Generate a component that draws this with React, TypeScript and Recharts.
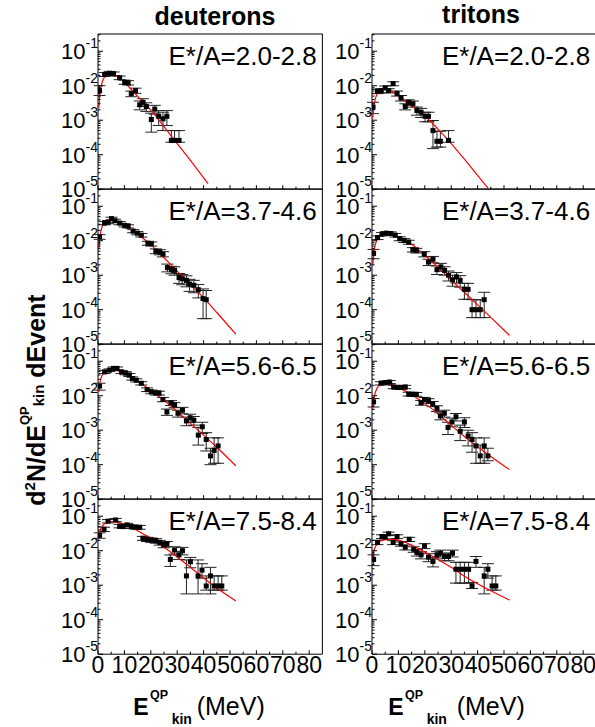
import React from 'react';
import { ComposedChart, Line, Scatter, XAxis, YAxis, ErrorBar, ReferenceArea } from 'recharts';

const FONT = 'Arial, "Liberation Sans", Helvetica, sans-serif';

// layout (page px)
const COL_X = [98.3, 371.7];
const PW = 224.4;
const ROW_Y0 = 33.5;
const PH = 155.2;
const YW = 60;
const PAD = 20;

const xTicks = [0, 5, 10, 15, 20, 25, 30, 35, 40, 45, 50, 55, 60, 65, 70, 75, 80];
const xLabels = [0, 10, 20, 30, 40, 50, 60, 70, 80];
const yMajor = [1e-5, 1e-4, 1e-3, 1e-2, 1e-1];
const yMinor = [
  2e-5, 3e-5, 4e-5, 5e-5, 6e-5, 7e-5, 8e-5, 9e-5,
  2e-4, 3e-4, 4e-4, 5e-4, 6e-4, 7e-4, 8e-4, 9e-4,
  2e-3, 3e-3, 4e-3, 5e-3, 6e-3, 7e-3, 8e-3, 9e-3,
  2e-2, 3e-2, 4e-2, 5e-2, 6e-2, 7e-2, 8e-2, 9e-2,
  2e-1, 3e-1,
];
const yTicks = [...yMajor, ...yMinor].sort((a, b) => a - b);

const columnTitles = ['deuterons', 'tritons'];
const panelLabels = ['E*/A=2.0-2.8', 'E*/A=3.7-4.6', 'E*/A=5.6-6.5', 'E*/A=7.5-8.4'];

type Pt = [number, number, number, number]; // E, value, bar low, bar high
type Fp = [number, number];

// deuterons, E*/A = 2.0-2.8
const deut1: Pt[] = [
  [0.6, 7.2e-3, 5.2e-3, 1.0e-2], [2.5, 2.1e-2, 1.85e-2, 2.4e-2], [4.4, 2.3e-2, 2.05e-2, 2.6e-2],
  [5.9, 2.2e-2, 1.95e-2, 2.5e-2], [8.2, 1.7e-2, 1.5e-2, 1.9e-2], [10.1, 1.26e-2, 1.1e-2, 1.45e-2],
  [11.4, 1.2e-2, 1.05e-2, 1.4e-2], [12.6, 5.9e-3, 4.8e-3, 7.0e-3], [14.2, 7.2e-3, 6.0e-3, 8.5e-3],
  [15.8, 2.8e-3, 2.0e-3, 3.6e-3], [17.0, 3.3e-3, 2.5e-3, 4.2e-3], [18.3, 2.5e-3, 1.8e-3, 3.2e-3],
  [20.2, 1.05e-3, 4.5e-4, 1.6e-3], [21.5, 2.1e-3, 1.5e-3, 2.7e-3], [23.0, 1.3e-3, 7e-4, 1.9e-3],
  [24.6, 1.1e-3, 5e-4, 1.7e-3], [26.1, 1.3e-3, 7e-4, 1.9e-3], [27.8, 2.6e-4, 2.3e-4, 5.0e-4],
  [29.0, 2.6e-4, 2.3e-4, 5.0e-4], [30.7, 2.6e-4, 2.3e-4, 5.0e-4],
];
const fitD1: Fp[] = [
  [0.3, 2.24e-3], [0.8, 6.3e-3], [1.5, 1.2e-2], [2.5, 1.82e-2], [3.5, 2.19e-2], [4.5, 2.29e-2],
  [6, 2.14e-2], [8, 1.7e-2], [10, 1.26e-2], [12.5, 7.9e-3], [15, 5.0e-3], [17.5, 3.16e-3],
  [20, 1.95e-3], [25, 6.5e-4], [30, 2.1e-4], [35, 6.8e-5], [41.7, 1.45e-5],
];

// tritons, E*/A = 2.0-2.8
const trit1: Pt[] = [
  [0.4, 2.4e-3, 1.55e-3, 3.3e-3], [2.1, 6.9e-3, 5.9e-3, 7.9e-3], [3.5, 7.2e-3, 6.2e-3, 8.2e-3],
  [5.0, 8.7e-3, 7.6e-3, 9.8e-3], [6.3, 7.2e-3, 6.2e-3, 8.2e-3], [8.0, 1.15e-2, 1.0e-2, 1.3e-2],
  [9.5, 6.0e-3, 5.0e-3, 7.0e-3], [11.0, 4.4e-3, 3.6e-3, 5.2e-3], [12.6, 2.5e-3, 2.0e-3, 3.0e-3],
  [13.9, 3.3e-3, 2.7e-3, 3.9e-3], [15.5, 3.0e-3, 2.4e-3, 3.6e-3], [17.0, 1.9e-3, 1.4e-3, 2.4e-3],
  [18.6, 1.7e-3, 1.2e-3, 2.2e-3], [20.1, 1.3e-3, 9e-4, 1.7e-3], [21.4, 1.3e-3, 9e-4, 1.7e-3],
  [23.1, 5.0e-4, 1.5e-4, 9.8e-4], [24.6, 2.45e-4, 1.66e-4, 4.8e-4], [25.9, 2.45e-4, 1.66e-4, 4.8e-4],
  [29.0, 2.6e-4, 2.3e-4, 5.0e-4],
];
const fitT1: Fp[] = [
  [0.3, 1.12e-3], [0.8, 2.8e-3], [1.5, 4.8e-3], [2.5, 6.6e-3], [3.5, 7.8e-3], [4.5, 8.1e-3],
  [6, 7.8e-3], [8, 6.5e-3], [10, 5.0e-3], [12.5, 3.5e-3], [15, 2.6e-3], [17.5, 1.86e-3],
  [20, 1.32e-3], [25, 5.5e-4], [30, 2.1e-4], [35, 7.4e-5], [40, 2.5e-5], [44, 1.05e-5],
];

// deuterons, E*/A = 3.7-4.6
const deut2: Pt[] = [
  [0.6, 1.29e-2, 1.1e-2, 1.5e-2], [2.5, 3.24e-2, 2.9e-2, 3.6e-2], [3.8, 3.47e-2, 3.1e-2, 3.85e-2],
  [5.1, 4.37e-2, 3.95e-2, 4.8e-2], [6.4, 3.8e-2, 3.4e-2, 4.2e-2], [8.2, 3.24e-2, 2.9e-2, 3.6e-2],
  [10.1, 2.8e-2, 2.5e-2, 3.1e-2], [11.4, 2.63e-2, 2.35e-2, 2.9e-2], [13.3, 1.9e-2, 1.7e-2, 2.1e-2],
  [14.9, 1.66e-2, 1.48e-2, 1.84e-2], [16.4, 1.45e-2, 1.28e-2, 1.62e-2], [18.9, 8.5e-3, 7.4e-3, 9.6e-3],
  [20.2, 8.1e-3, 7.0e-3, 9.2e-3], [21.9, 5.0e-3, 4.2e-3, 5.8e-3], [23.4, 4.7e-3, 3.9e-3, 5.5e-3],
  [24.6, 4.1e-3, 3.4e-3, 4.8e-3], [26.3, 1.66e-3, 1.25e-3, 2.1e-3], [27.8, 1.45e-3, 1.1e-3, 1.8e-3],
  [29.0, 1.38e-3, 1.0e-3, 1.75e-3], [30.7, 8.5e-4, 5.8e-4, 1.12e-3], [31.9, 7.9e-4, 5.3e-4, 1.05e-3],
  [33.5, 7.1e-4, 4.6e-4, 9.6e-4], [34.7, 5.5e-4, 3.4e-4, 7.6e-4], [36.3, 5.1e-4, 3.1e-4, 7.1e-4],
  [38.0, 3.8e-4, 2.2e-4, 5.4e-4], [39.8, 2.1e-4, 5.5e-5, 4.0e-4], [41.0, 1.95e-4, 5.5e-5, 3.6e-4],
];
const fitD2: Fp[] = [
  [0.3, 5.6e-3], [0.8, 1.4e-2], [1.5, 2.5e-2], [2.5, 3.5e-2], [3.5, 4.0e-2], [4.5, 4.2e-2],
  [6, 4.1e-2], [8, 3.55e-2], [10, 2.9e-2], [12.5, 2.1e-2], [15, 1.55e-2], [17.5, 1.1e-2],
  [20, 7.6e-3], [25, 3.2e-3], [30, 1.32e-3], [35, 5.5e-4], [40, 2.2e-4], [45, 8.3e-5], [52.2, 1.95e-5],
];

// tritons, E*/A = 3.7-4.6
const trit2: Pt[] = [
  [0.6, 4.3e-3, 3.0e-3, 5.6e-3], [2.1, 1.23e-2, 1.08e-2, 1.38e-2], [3.8, 1.55e-2, 1.38e-2, 1.72e-2],
  [5.4, 1.66e-2, 1.48e-2, 1.84e-2], [7.1, 1.62e-2, 1.45e-2, 1.8e-2], [8.8, 1.45e-2, 1.28e-2, 1.62e-2],
  [10.5, 1.15e-2, 1.0e-2, 1.3e-2], [12.2, 1.02e-2, 8.9e-3, 1.15e-2], [13.9, 9.1e-3, 7.9e-3, 1.03e-2],
  [15.5, 5.5e-3, 4.7e-3, 6.3e-3], [16.8, 5.2e-3, 4.4e-3, 6.0e-3], [19.8, 4.1e-3, 3.4e-3, 4.8e-3],
  [21.4, 2.4e-3, 1.9e-3, 2.9e-3], [23.1, 2.9e-3, 2.3e-3, 3.5e-3], [24.6, 1.45e-3, 1.05e-3, 1.85e-3],
  [26.1, 1.74e-3, 1.3e-3, 2.2e-3], [27.5, 1.38e-3, 1.0e-3, 1.76e-3], [29.0, 1.0e-3, 6.8e-4, 1.32e-3],
  [30.5, 7.4e-4, 4.8e-4, 1.0e-3], [32.0, 8.9e-4, 5.9e-4, 1.19e-3], [33.4, 7.1e-4, 4.5e-4, 9.7e-4],
  [35.0, 3.9e-4, 2.0e-4, 5.8e-4], [36.4, 3.9e-4, 2.0e-4, 5.8e-4], [37.9, 1.0e-4, 5.9e-5, 1.95e-4],
  [39.4, 1.0e-4, 5.9e-5, 1.95e-4], [41.0, 1.0e-4, 5.9e-5, 1.95e-4], [42.5, 1.95e-4, 5.9e-5, 3.2e-4],
];
const fitT2: Fp[] = [
  [0.3, 2.0e-3], [0.8, 5.0e-3], [1.5, 8.9e-3], [2.5, 1.32e-2], [3.5, 1.58e-2], [4.5, 1.66e-2],
  [6, 1.66e-2], [8, 1.51e-2], [10, 1.32e-2], [12.5, 1.05e-2], [15, 7.9e-3], [17.5, 5.6e-3],
  [20, 3.8e-3], [25, 1.7e-3], [30, 7.2e-4], [35, 3.2e-4], [40, 1.38e-4], [45, 6.0e-5], [52.1, 1.8e-5],
];

// deuterons, E*/A = 5.6-6.5
const deut3: Pt[] = [
  [0.6, 1.9e-2, 1.45e-2, 2.3e-2], [2.5, 4.9e-2, 4.4e-2, 5.4e-2], [4.4, 5.5e-2, 5.0e-2, 6.0e-2],
  [5.9, 6.2e-2, 5.6e-2, 6.8e-2], [7.2, 6.2e-2, 5.6e-2, 6.8e-2], [8.9, 4.9e-2, 4.4e-2, 5.4e-2],
  [10.5, 4.5e-2, 4.05e-2, 4.95e-2], [11.9, 4.0e-2, 3.6e-2, 4.4e-2], [13.0, 3.16e-2, 2.85e-2, 3.5e-2],
  [14.5, 2.8e-2, 2.5e-2, 3.1e-2], [16.4, 2.3e-2, 2.05e-2, 2.55e-2], [18.6, 1.5e-2, 1.32e-2, 1.68e-2],
  [20.2, 1.3e-2, 1.14e-2, 1.46e-2], [21.9, 1.2e-2, 1.05e-2, 1.35e-2], [23.1, 1.2e-2, 1.05e-2, 1.35e-2],
  [24.6, 7.8e-3, 6.7e-3, 8.9e-3], [26.1, 3.4e-3, 2.7e-3, 4.1e-3], [27.7, 6.2e-3, 5.2e-3, 7.2e-3],
  [29.0, 5.4e-3, 4.5e-3, 6.3e-3], [30.3, 3.1e-3, 2.4e-3, 3.8e-3], [32.0, 3.8e-3, 3.0e-3, 4.6e-3],
  [33.5, 1.86e-3, 1.35e-3, 2.4e-3], [34.9, 2.3e-3, 1.7e-3, 2.9e-3], [36.3, 1.95e-3, 1.4e-3, 2.5e-3],
  [38.0, 7.2e-4, 3.7e-4, 1.2e-3], [39.5, 1.26e-3, 8.0e-4, 1.7e-3], [41.0, 5.4e-4, 2.5e-4, 8.5e-4],
  [42.6, 1.8e-4, 1.0e-4, 3.0e-4], [44.0, 2.6e-4, 1.1e-4, 6.0e-4], [45.5, 3.5e-4, 1.1e-4, 6.0e-4],
];
const fitD3: Fp[] = [
  [0.3, 1.26e-2], [0.8, 2.5e-2], [1.5, 3.8e-2], [2.5, 4.9e-2], [3.5, 5.5e-2], [4.5, 5.75e-2],
  [6, 5.75e-2], [8, 5.1e-2], [10, 4.4e-2], [12.5, 3.5e-2], [15, 2.6e-2], [17.5, 1.95e-2],
  [20, 1.45e-2], [25, 7.4e-3], [30, 3.5e-3], [35, 1.58e-3], [40, 7.2e-4], [45, 3.2e-4], [52.2, 9.3e-5],
];

// tritons, E*/A = 5.6-6.5
const trit3: Pt[] = [
  [0.6, 6.6e-3, 4.7e-3, 8.3e-3], [3.4, 2.3e-2, 2.05e-2, 2.55e-2], [5.0, 2.4e-2, 2.15e-2, 2.65e-2],
  [6.7, 2.5e-2, 2.25e-2, 2.75e-2], [8.2, 1.8e-2, 1.6e-2, 2.0e-2], [9.7, 1.74e-2, 1.55e-2, 1.93e-2],
  [11.0, 1.74e-2, 1.55e-2, 1.93e-2], [12.6, 1.8e-2, 1.6e-2, 2.0e-2], [13.9, 1.12e-2, 9.8e-3, 1.26e-2],
  [15.4, 1.1e-2, 9.6e-3, 1.24e-2], [16.8, 1.1e-2, 9.6e-3, 1.24e-2], [18.6, 6.3e-3, 5.3e-3, 7.3e-3],
  [19.9, 7.8e-3, 6.7e-3, 8.9e-3], [21.4, 7.1e-3, 6.0e-3, 8.2e-3], [23.0, 5.8e-3, 4.8e-3, 6.8e-3],
  [24.6, 4.3e-3, 3.5e-3, 5.1e-3], [25.9, 2.6e-3, 2.0e-3, 3.2e-3], [27.4, 3.1e-3, 2.4e-3, 3.8e-3],
  [28.8, 1.2e-3, 7.5e-4, 1.7e-3], [30.3, 1.74e-3, 1.25e-3, 2.25e-3], [31.8, 2.45e-3, 1.85e-3, 3.05e-3],
  [33.4, 9.3e-4, 5.0e-4, 1.4e-3], [35.0, 1.74e-3, 1.2e-3, 2.3e-3], [36.4, 6.8e-4, 3.5e-4, 1.0e-3],
  [37.9, 5.4e-4, 2.3e-4, 8.5e-4], [39.4, 3.5e-4, 1.1e-4, 6.0e-4], [41.0, 1.8e-4, 1.1e-4, 3.7e-4],
  [42.5, 3.5e-4, 1.1e-4, 6.0e-4], [43.9, 1.8e-4, 1.3e-4, 3.0e-4],
];
const fitT3: Fp[] = [
  [0.3, 4.0e-3], [0.8, 8.9e-3], [1.5, 1.4e-2], [2.5, 1.9e-2], [3.5, 2.2e-2], [4.5, 2.3e-2],
  [6, 2.24e-2], [8, 2.04e-2], [10, 1.74e-2], [12.5, 1.38e-2], [15, 1.07e-2], [17.5, 8.1e-3],
  [20, 6.0e-3], [25, 3.0e-3], [30, 1.38e-3], [35, 6.6e-4], [40, 3.3e-4], [45, 1.74e-4], [52.1, 7.2e-5],
];

// deuterons, E*/A = 7.5-8.4
const deut4: Pt[] = [
  [0.6, 2.8e-2, 2.3e-2, 3.3e-2], [2.3, 4.2e-2, 3.6e-2, 4.8e-2], [3.8, 7.2e-2, 6.4e-2, 8.0e-2],
  [6.7, 7.8e-2, 7.0e-2, 8.6e-2], [8.2, 5.2e-2, 4.6e-2, 5.8e-2], [9.5, 5.0e-2, 4.4e-2, 5.6e-2],
  [11.0, 5.6e-2, 5.0e-2, 6.2e-2], [12.6, 5.0e-2, 4.4e-2, 5.6e-2], [14.3, 4.8e-2, 4.2e-2, 5.4e-2],
  [15.8, 4.8e-2, 4.2e-2, 5.4e-2], [17.0, 2.3e-2, 2.0e-2, 2.6e-2], [18.6, 2.14e-2, 1.85e-2, 2.45e-2],
  [20.2, 2.04e-2, 1.75e-2, 2.35e-2], [21.9, 1.95e-2, 1.65e-2, 2.25e-2], [23.4, 1.74e-2, 1.45e-2, 2.0e-2],
  [24.9, 1.48e-2, 1.22e-2, 1.74e-2], [26.1, 1.58e-2, 1.3e-2, 1.86e-2], [27.4, 5.6e-3, 3.5e-3, 7.5e-3],
  [29.0, 1.05e-2, 8.0e-3, 1.3e-2], [30.7, 7.6e-3, 5.6e-3, 9.6e-3], [32.0, 1.0e-2, 7.6e-3, 1.25e-2],
  [33.5, 1.86e-3, 5.6e-4, 5.4e-3], [35.0, 4.8e-3, 3.2e-3, 6.4e-3], [37.9, 1.86e-3, 5.6e-4, 5.4e-3],
  [39.4, 2.75e-3, 1.6e-3, 4.2e-3], [41.0, 9.5e-4, 7.2e-4, 1.86e-3], [42.6, 1.86e-3, 5.6e-4, 3.3e-3],
  [44.0, 9.5e-4, 7.2e-4, 1.86e-3], [45.5, 9.5e-4, 7.2e-4, 1.86e-3], [46.9, 9.5e-4, 7.2e-4, 1.86e-3],
];
const fitD4: Fp[] = [
  [0.2, 2.4e-2], [0.8, 3.8e-2], [1.5, 5.0e-2], [2.5, 6.0e-2], [3.5, 6.5e-2], [5, 6.8e-2],
  [6.5, 6.8e-2], [8, 6.5e-2], [10, 5.75e-2], [12.5, 4.8e-2], [15, 3.8e-2], [17.5, 2.95e-2],
  [20, 2.3e-2], [25, 1.26e-2], [30, 6.6e-3], [35, 3.3e-3], [40, 1.62e-3], [45, 8.3e-4], [52.2, 3.5e-4],
];

// tritons, E*/A = 7.5-8.4
const trit4: Pt[] = [
  [0.6, 5.6e-3, 3.7e-3, 7.6e-3], [2.1, 1.74e-2, 1.5e-2, 2.0e-2], [3.8, 2.57e-2, 2.25e-2, 2.9e-2],
  [5.0, 2.5e-2, 2.2e-2, 2.8e-2], [6.3, 3.1e-2, 2.75e-2, 3.45e-2], [8.0, 1.74e-2, 1.5e-2, 2.0e-2],
  [9.5, 2.57e-2, 2.25e-2, 2.9e-2], [11.0, 1.58e-2, 1.35e-2, 1.8e-2], [12.6, 1.26e-2, 1.05e-2, 1.47e-2],
  [14.1, 2.14e-2, 1.85e-2, 2.45e-2], [15.8, 1.1e-2, 9.0e-3, 1.3e-2], [17.0, 8.9e-3, 7.0e-3, 1.08e-2],
  [18.6, 7.6e-3, 5.8e-3, 9.4e-3], [19.9, 1.38e-2, 1.15e-2, 1.6e-2], [21.4, 6.5e-3, 4.8e-3, 8.2e-3],
  [23.1, 4.9e-3, 3.4e-3, 6.4e-3], [24.6, 7.6e-3, 5.8e-3, 9.4e-3], [25.9, 8.5e-3, 6.6e-3, 1.04e-2],
  [27.5, 6.8e-3, 5.1e-3, 8.5e-3], [29.0, 6.8e-3, 5.1e-3, 8.5e-3], [30.5, 8.5e-3, 6.6e-3, 1.04e-2],
  [31.8, 2.9e-3, 1.15e-3, 4.6e-3], [33.4, 2.9e-3, 1.15e-3, 4.6e-3], [35.0, 2.9e-3, 1.15e-3, 4.6e-3],
  [36.6, 2.9e-3, 1.15e-3, 4.6e-3], [37.9, 9.5e-4, 8.0e-4, 1.2e-3], [39.4, 4.9e-3, 3.3e-3, 6.8e-3],
  [42.5, 1.86e-3, 5.6e-4, 3.3e-3], [43.9, 2.9e-3, 1.6e-3, 4.2e-3], [45.5, 9.5e-4, 7.2e-4, 1.86e-3],
  [46.9, 9.5e-4, 7.2e-4, 1.86e-3],
];
const fitT4: Fp[] = [
  [0.2, 6.3e-3], [0.8, 1.05e-2], [1.5, 1.4e-2], [2.5, 1.74e-2], [3.5, 1.95e-2], [5, 2.1e-2],
  [7, 2.14e-2], [9, 2.1e-2], [11, 1.95e-2], [13, 1.7e-2], [15, 1.45e-2], [17.5, 1.15e-2],
  [20, 9.1e-3], [25, 5.6e-3], [30, 3.3e-3], [35, 1.82e-3], [40, 1.1e-3], [45, 6.9e-4], [52.1, 3.7e-4],
];

const deutData = [deut1, deut2, deut3, deut4];
const deutFits = [fitD1, fitD2, fitD3, fitD4];
const tritData = [trit1, trit2, trit3, trit4];
const tritFits = [fitT1, fitT2, fitT3, fitT4];

const majorSet = new Set(yMajor);

const YTick = (props: any) => {
  const { y, payload } = props;
  const v = payload.value;
  const major = majorSet.has(v);
  return (
    <g>
      <line x1={YW} x2={YW + (major ? 5 : 2.5)} y1={y} y2={y} stroke="#000" strokeWidth={1} />
      {major && (
        <text x={YW} y={y + 8} textAnchor="end" fontSize={22} fill="#000" fontFamily={FONT}>
          10<tspan fontSize={14} dy={-11}>{String(Math.round(Math.log10(v)))}</tspan>
        </text>
      )}
    </g>
  );
};

const XTick = (props: any) => {
  const { x, payload, showLabel } = props;
  const v = payload.value;
  const major = v % 10 === 0;
  const base = PAD + PH;
  return (
    <g>
      <line x1={x} x2={x} y1={base} y2={base - (major ? 4 : 2.5)} stroke="#000" strokeWidth={1} />
      {showLabel && xLabels.includes(v) && (
        <text x={x} y={base + 19} textAnchor="middle" fontSize={23} fill="#000" fontFamily={FONT}>
          {v}
        </text>
      )}
    </g>
  );
};

const Square = (p: any) => <rect x={p.cx - 2.5} y={p.cy - 2.5} width={5} height={5} fill="#000" />;

function Panel({ pts, fit, col, row }: { pts: Pt[]; fit: Fp[]; col: number; row: number }) {
  const bottom = row === 3;
  const xh = bottom ? 40 : PAD;
  const scatter = pts.map(([x, y, lo, hi]) => ({ x, y, err: [y - lo, hi - y] }));
  const line = fit.map(([x, y]) => ({ x, y }));
  return (
    <div style={{ position: 'absolute', left: COL_X[col] - YW, top: ROW_Y0 + row * PH - PAD }}>
      <ComposedChart
        width={YW + PW + PAD}
        height={PAD + PH + xh}
        margin={{ top: PAD, right: PAD, bottom: 0, left: 0 }}
      >
        <XAxis
          type="number"
          dataKey="x"
          domain={[0, 85]}
          ticks={xTicks}
          interval={0}
          allowDataOverflow
          axisLine={false}
          tickLine={false}
          height={xh}
          tick={(p: any) => <XTick {...p} showLabel={bottom} />}
        />
        <YAxis
          type="number"
          dataKey="y"
          scale="log"
          domain={[1e-5, 0.316]}
          ticks={yTicks}
          interval={0}
          allowDataOverflow
          axisLine={false}
          tickLine={false}
          width={YW}
          tick={(p: any) => <YTick {...p} />}
        />
        <ReferenceArea
          x1={0}
          x2={85}
          y1={1e-5}
          y2={0.316}
          fill="none"
          fillOpacity={0}
          stroke="#000"
          strokeWidth={1}
          ifOverflow="visible"
        />
        <Scatter data={scatter} dataKey="y" fill="#000" shape={Square} isAnimationActive={false}>
          <ErrorBar dataKey="err" direction="y" width={6} stroke="#222" strokeWidth={1} isAnimationActive={false} />
        </Scatter>
        <Line
          data={line}
          dataKey="y"
          type="monotone"
          stroke="#ff0000"
          strokeWidth={1.2}
          dot={false}
          activeDot={false}
          isAnimationActive={false}
        />
      </ComposedChart>
    </div>
  );
}

export default function App() {
  return (
    <div
      style={{
        position: 'absolute',
        left: 0,
        top: 0,
        width: 595,
        height: 727,
        background: '#fff',
        overflow: 'hidden',
        fontFamily: FONT,
      }}
    >
      {deutData.map((d, r) => (
        <Panel key={`d${r}`} pts={d} fit={deutFits[r]} col={0} row={r} />
      ))}
      {tritData.map((d, r) => (
        <Panel key={`t${r}`} pts={d} fit={tritFits[r]} col={1} row={r} />
      ))}
      <svg
        width={595}
        height={727}
        style={{ position: 'absolute', left: 0, top: 0, pointerEvents: 'none' }}
        fontFamily={FONT}
      >
        <text x={215} y={24.5} textAnchor="middle" fontSize={25} fontWeight="bold">{columnTitles[0]}</text>
        <text x={481} y={22.5} textAnchor="middle" fontSize={25} fontWeight="bold">{columnTitles[1]}</text>
        {[0, 1].map((c) =>
          panelLabels.map((lab, r) => (
            <text
              key={`l${c}${r}`}
              x={COL_X[c] + PW - 6}
              y={ROW_Y0 + r * PH + 31}
              textAnchor="end"
              fontSize={26}
            >
              {lab}
            </text>
          ))
        )}
        <text transform="translate(45,400) rotate(-90)" textAnchor="middle" fontSize={25} fontWeight="bold">
          d<tspan fontSize={15} dy={-10}>2</tspan>
          <tspan dy={10}>N/dE</tspan>
          <tspan fontSize={13} dy={-16}>QP</tspan>
          <tspan fontSize={15} dy={14.5}>kin</tspan>
          <tspan dy={1.5}> dEvent</tspan>
        </text>
        {[
          [133.3, 150, 171.7, 196.7],
          [388.3, 405, 426.7, 456.7],
        ].map((xs, i) => (
          <g key={`xl${i}`}>
            <text x={xs[0]} y={715} fontSize={23} fontWeight="bold">E</text>
            <text x={xs[1]} y={698.5} fontSize={12.5} fontWeight="bold">QP</text>
            <text x={xs[2]} y={724} fontSize={14} fontWeight="bold">kin</text>
            <text x={xs[3]} y={715} fontSize={25}>(MeV)</text>
          </g>
        ))}
      </svg>
    </div>
  );
}
